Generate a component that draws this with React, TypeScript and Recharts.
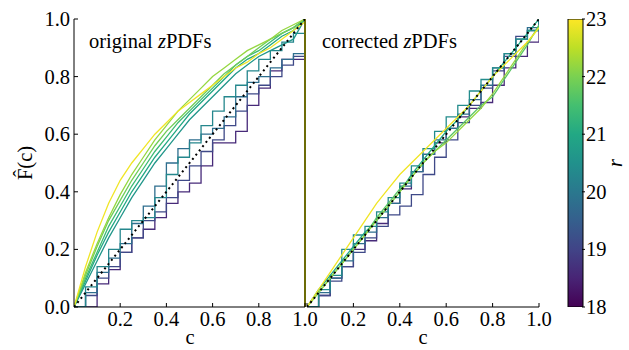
import React from "react";
import { LineChart, Line, XAxis, YAxis, ReferenceLine, BarChart, Bar } from "recharts";

// c grid shared by every curve
const C = [0, 0.05, 0.1, 0.15, 0.2, 0.25, 0.3, 0.35, 0.4, 0.45, 0.5, 0.55, 0.6, 0.65, 0.7, 0.75, 0.8, 0.85, 0.9, 0.95, 1.0];

// original zPDFs, one curve per r bin (ascending r)
const ORIG_R = [18.6, 19.1, 19.8, 20.3, 20.6, 21.0, 21.4, 21.9, 22.2, 22.9];
const O_186 = [0, 0.0, 0.08, 0.13, 0.19, 0.24, 0.27, 0.31, 0.36, 0.4, 0.43, 0.49, 0.57, 0.57, 0.61, 0.7, 0.76, 0.82, 0.86, 0.86, 1.0];
const O_191 = [0, 0.04, 0.1, 0.14, 0.19, 0.24, 0.3, 0.33, 0.38, 0.44, 0.49, 0.54, 0.58, 0.63, 0.68, 0.74, 0.77, 0.8, 0.84, 0.87, 1.0];
const O_198 = [0, 0.05, 0.12, 0.17, 0.22, 0.29, 0.35, 0.42, 0.5, 0.55, 0.58, 0.6, 0.62, 0.66, 0.73, 0.78, 0.8, 0.83, 0.86, 0.88, 1.0];
const O_203 = [0, 0.07, 0.14, 0.2, 0.27, 0.3, 0.31, 0.38, 0.46, 0.52, 0.57, 0.63, 0.68, 0.73, 0.77, 0.82, 0.86, 0.89, 0.92, 0.95, 1.0];
const O_206 = [0, 0.08, 0.16, 0.24, 0.31, 0.38, 0.44, 0.5, 0.55, 0.6, 0.65, 0.69, 0.73, 0.77, 0.81, 0.84, 0.87, 0.89, 0.91, 0.93, 1.0];
const O_210 = [0, 0.09, 0.18, 0.26, 0.33, 0.4, 0.46, 0.52, 0.57, 0.62, 0.67, 0.71, 0.75, 0.79, 0.83, 0.86, 0.88, 0.91, 0.94, 0.96, 1.0];
const O_214 = [0, 0.1, 0.19, 0.28, 0.35, 0.42, 0.48, 0.54, 0.59, 0.64, 0.68, 0.72, 0.76, 0.8, 0.84, 0.87, 0.89, 0.92, 0.95, 0.97, 1.0];
const O_219 = [0, 0.11, 0.21, 0.3, 0.37, 0.44, 0.5, 0.56, 0.61, 0.65, 0.69, 0.73, 0.77, 0.81, 0.84, 0.87, 0.9, 0.93, 0.95, 0.97, 1.0];
const O_222 = [0, 0.12, 0.22, 0.31, 0.39, 0.46, 0.52, 0.58, 0.63, 0.68, 0.72, 0.76, 0.8, 0.83, 0.86, 0.89, 0.91, 0.93, 0.96, 0.98, 1.0];
const O_229 = [0, 0.14, 0.26, 0.36, 0.44, 0.5, 0.55, 0.6, 0.64, 0.68, 0.71, 0.74, 0.77, 0.8, 0.83, 0.85, 0.88, 0.9, 0.93, 0.96, 0.99];
const ORIG_F = [O_186, O_191, O_198, O_203, O_206, O_210, O_214, O_219, O_222, O_229];

// corrected zPDFs
const CORR_R = [18.6, 19.1, 19.8, 20.4, 21.0, 21.7, 22.2, 22.9];
const K_186 = [0, 0.04, 0.1, 0.14, 0.2, 0.23, 0.29, 0.36, 0.41, 0.47, 0.53, 0.57, 0.62, 0.66, 0.69, 0.71, 0.77, 0.83, 0.87, 0.92, 1.0];
const K_191 = [0, 0.04, 0.09, 0.14, 0.19, 0.24, 0.28, 0.32, 0.35, 0.39, 0.46, 0.52, 0.58, 0.64, 0.7, 0.76, 0.82, 0.87, 0.94, 0.96, 1.0];
const K_198 = [0, 0.05, 0.1, 0.16, 0.22, 0.26, 0.31, 0.36, 0.42, 0.47, 0.53, 0.58, 0.62, 0.67, 0.72, 0.77, 0.83, 0.88, 0.93, 0.97, 1.0];
const K_204 = [0, 0.06, 0.11, 0.2, 0.25, 0.28, 0.33, 0.38, 0.43, 0.49, 0.55, 0.61, 0.66, 0.7, 0.75, 0.79, 0.83, 0.88, 0.93, 0.96, 1.0];
const K_210 = [0, 0.06, 0.11, 0.16, 0.21, 0.26, 0.3, 0.35, 0.4, 0.46, 0.51, 0.56, 0.61, 0.65, 0.7, 0.75, 0.8, 0.85, 0.9, 0.95, 1.0];
const K_217 = [0, 0.05, 0.1, 0.15, 0.2, 0.25, 0.31, 0.36, 0.41, 0.45, 0.5, 0.54, 0.58, 0.62, 0.66, 0.7, 0.73, 0.79, 0.85, 0.91, 0.98];
const K_222 = [0, 0.05, 0.1, 0.15, 0.2, 0.25, 0.3, 0.35, 0.4, 0.45, 0.5, 0.54, 0.57, 0.61, 0.65, 0.69, 0.74, 0.8, 0.86, 0.92, 0.97];
const K_229 = [0, 0.06, 0.12, 0.18, 0.24, 0.3, 0.36, 0.41, 0.46, 0.5, 0.54, 0.58, 0.62, 0.66, 0.7, 0.75, 0.8, 0.84, 0.88, 0.92, 0.97];
const CORR_F = [K_186, K_191, K_198, K_204, K_210, K_217, K_222, K_229];

const DIAG_C = [0, 1];
const Y_TICKS = [0, 0.2, 0.4, 0.6, 0.8, 1.0];
const X_TICKS_LEFT = [0.2, 0.4, 0.6, 0.8, 1.0];
const X_TICKS_RIGHT = [0, 0.2, 0.4, 0.6, 0.8, 1.0];
const R_TICKS = [18, 19, 20, 21, 22, 23];
const R_RANGE = [18, 23];

const FONT = "Liberation Serif";
const FS = 20.5;
const VIRIDIS = ["#440154", "#482475", "#414487", "#355f8d", "#2a788e", "#21918c", "#22a884", "#44bf70", "#7ad151", "#bddf26", "#fde725"];

function viridis(r: number) {
  const t = Math.min(1, Math.max(0, (r - R_RANGE[0]) / (R_RANGE[1] - R_RANGE[0])));
  const p = t * 10;
  const i = Math.min(9, Math.floor(p));
  const f = p - i;
  const a = VIRIDIS[i], b = VIRIDIS[i + 1];
  const ch = (h: string, k: number) => parseInt(h.slice(1 + 2 * k, 3 + 2 * k), 16);
  const mix = [0, 1, 2].map((k) => Math.round(ch(a, k) + (ch(b, k) - ch(a, k)) * f));
  return `rgb(${mix.join(",")})`;
}

const toRows = (vals: number[]) => C.map((c, i) => ({ c, F: vals[i] }));
const diagRows = DIAG_C.map((c) => ({ c, F: c }));
const txt = { fontFamily: FONT, fontSize: FS };

// right panel's 0.0 label sits under the left panel's 1.0; only one is drawn
const BottomTick = (p: any) => (
  <g>
    <line x1={p.x} x2={p.x} y1={p.y} y2={p.y - 4} stroke="#000" strokeWidth={1} />
    {p.payload.value !== 0 && (
      <text x={p.x} y={p.y + 19} textAnchor="middle" style={txt} fill="#000">
        {Number(p.payload.value).toFixed(1)}
      </text>
    )}
  </g>
);

const LeftTick = (p: any) => (
  <g>
    <line x1={p.x} x2={p.x + 4} y1={p.y} y2={p.y} stroke="#000" strokeWidth={1} />
    <text x={p.x - 4} y={p.y + 7} textAnchor="end" style={txt} fill="#000">
      {Number(p.payload.value).toFixed(1)}
    </text>
  </g>
);

const LeftTickBare = (p: any) => (
  <line x1={p.x} x2={p.x + 4} y1={p.y} y2={p.y} stroke="#000" strokeWidth={1} />
);

const RightTick = (p: any) => (
  <g>
    <line x1={p.x - 1} x2={p.x + 2} y1={p.y} y2={p.y} stroke="#000" strokeWidth={1} />
    <text x={p.x + 3} y={p.y + 7} textAnchor="start" style={txt} fill="#000">
      {p.payload.value}
    </text>
  </g>
);

function Panel(props: {
  left: number;
  width: number;
  margin: any;
  yWidth: number;
  yLabels: boolean;
  xTicks: number[];
  rs: number[];
  fs: number[][];
  edgeLine?: boolean;
}) {
  const { left, width, margin, yWidth, yLabels, xTicks, rs, fs, edgeLine } = props;
  return (
    <div style={{ position: "absolute", left, top: 0 }}>
      <LineChart width={width} height={350} margin={margin}>
        <XAxis
          xAxisId="b"
          type="number"
          dataKey="c"
          domain={[0, 1]}
          ticks={xTicks}
          interval={0}
          height={43}
          tickSize={0}
          tickMargin={0}
          tickLine={false}
          tick={BottomTick}
          axisLine={{ stroke: "#000", strokeWidth: 1 }}
          allowDataOverflow
        />
        <XAxis xAxisId="t" orientation="top" type="number" domain={[0, 1]} height={0} tick={false} tickLine={false} axisLine={{ stroke: "#000", strokeWidth: 1 }} />
        <YAxis
          yAxisId="l"
          type="number"
          domain={[0, 1]}
          ticks={Y_TICKS}
          interval={0}
          width={yWidth}
          tickSize={0}
          tickMargin={0}
          tickLine={false}
          tick={yLabels ? LeftTick : LeftTickBare}
          axisLine={{ stroke: "#000", strokeWidth: 1 }}
          allowDataOverflow
        />
        <YAxis yAxisId="r" orientation="right" type="number" domain={[0, 1]} width={0} tick={false} tickLine={false} axisLine={{ stroke: "#000", strokeWidth: 1 }} />
        {fs.map((vals, i) => (
          <Line
            key={`s-${i}`}
            xAxisId="b"
            yAxisId="l"
            data={toRows(vals)}
            dataKey="F"
            type={rs[i] < 20.5 ? "stepAfter" : "linear"}
            stroke={viridis(rs[i])}
            strokeWidth={1.3}
            dot={false}
            isAnimationActive={false}
          />
        ))}
        {edgeLine && <ReferenceLine xAxisId="b" yAxisId="l" x={1} stroke="#6c6c08" strokeWidth={2} />}
        <Line
          xAxisId="b"
          yAxisId="l"
          data={diagRows}
          dataKey="F"
          type="linear"
          stroke="#000"
          strokeWidth={2}
          strokeDasharray="2 3.4"
          dot={false}
          isAnimationActive={false}
        />
      </LineChart>
    </div>
  );
}

function ColorBar() {
  const data = [{ k: "r", range: R_RANGE }];
  return (
    <div style={{ position: "absolute", left: 540, top: 0 }}>
      <BarChart width={89} height={350} data={data} margin={{ top: 19, right: 0, bottom: 43, left: 28 }} barCategoryGap={0}>
        <XAxis dataKey="k" hide />
        <YAxis
          orientation="right"
          type="number"
          domain={R_RANGE}
          ticks={R_TICKS}
          interval={0}
          width={46}
          tickSize={0}
          tickMargin={0}
          axisLine={false}
          tickLine={false}
          tick={RightTick}
          allowDataOverflow
        />
        <Bar dataKey="range" fill="url(#viridisGrad)" stroke="#000" strokeWidth={1} isAnimationActive={false} />
      </BarChart>
    </div>
  );
}

export default function App() {
  return (
    <div style={{ position: "absolute", left: 0, top: 0, width: 629, height: 350, background: "#fff", fontFamily: FONT }}>
      <svg width={0} height={0} style={{ position: "absolute" }}>
        <defs>
          <linearGradient id="viridisGrad" x1="0" y1="1" x2="0" y2="0">
            {VIRIDIS.map((col, i) => (
              <stop key={col} offset={`${i * 10}%`} stopColor={col} />
            ))}
          </linearGradient>
        </defs>
      </svg>
      <ColorBar />
      <Panel
        left={0}
        width={320}
        margin={{ top: 19, right: 15, bottom: 0, left: 0 }}
        yWidth={74}
        yLabels
        xTicks={X_TICKS_LEFT}
        rs={ORIG_R}
        fs={ORIG_F}
        edgeLine
      />
      <Panel
        left={290}
        width={275}
        margin={{ top: 19, right: 26, bottom: 0, left: 17 }}
        yWidth={0}
        yLabels={false}
        xTicks={X_TICKS_RIGHT}
        rs={CORR_R}
        fs={CORR_F}
      />
      <svg width={629} height={350} style={{ position: "absolute", left: 0, top: 0, pointerEvents: "none" }}>
        <text x={89} y={48} style={txt} fill="#000">
          original <tspan fontStyle="italic">z</tspan>PDFs
        </text>
        <text x={322} y={48} style={txt} fill="#000">
          corrected <tspan fontStyle="italic">z</tspan>PDFs
        </text>
        <text x={190} y={344} textAnchor="middle" style={txt} fill="#000">c</text>
        <text x={423} y={344} textAnchor="middle" style={txt} fill="#000">c</text>
        <text x={32} y={163} textAnchor="middle" transform="rotate(-90 32 163)" style={txt} fill="#000">
          {"F\u0302(c)"}
        </text>
        <text x={622} y={163} textAnchor="middle" transform="rotate(-90 622 163)" style={{ ...txt, fontStyle: "italic" }} fill="#000">r</text>
      </svg>
    </div>
  );
}
